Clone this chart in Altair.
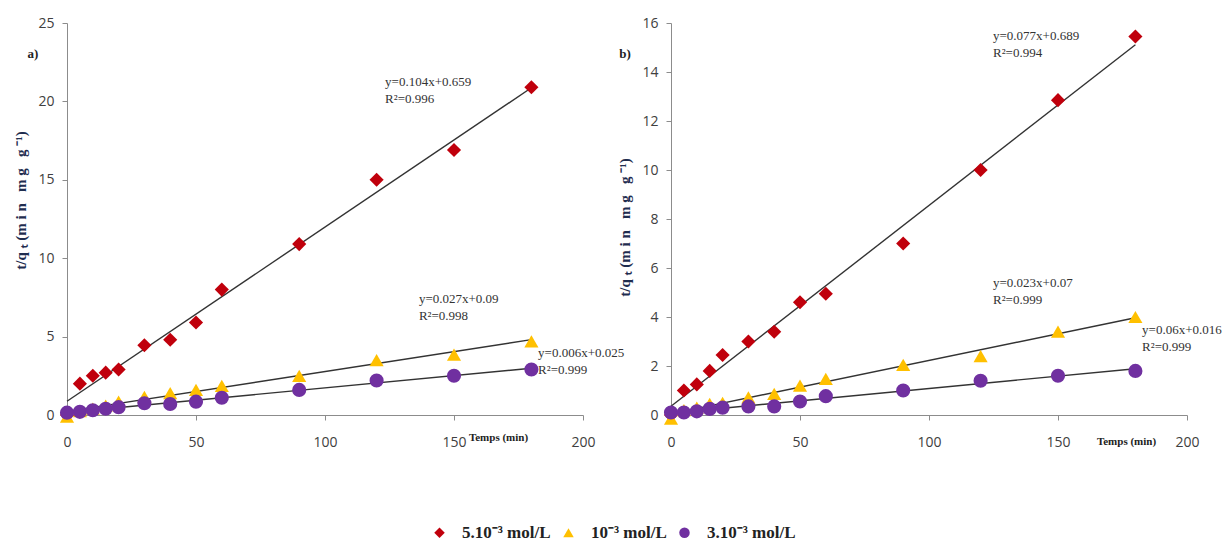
import altair as alt
import pandas as pd

# Contact time (min)
times = [0, 5, 10, 15, 20, 30, 40, 50, 60, 90, 120, 150, 180]

series_names = ["5.10⁻³ mol/L", "10⁻³ mol/L", "3.10⁻³ mol/L"]
series_colors = ["#C0000C", "#FFC000", "#7030A0"]
series_shapes = ["diamond", "triangle-up", "circle"]

# Panel a) t/qt values
a_red = [0.0, 2.0, 2.5, 2.7, 2.9, 4.45, 4.8, 5.9, 8.0, 10.9, 15.0, 16.9, 20.9]
a_yellow = [-0.1, 0.25, 0.4, 0.6, 0.85, 1.15, 1.4, 1.6, 1.85, 2.5, 3.5, 3.85, 4.7]
a_purple = [0.15, 0.2, 0.3, 0.4, 0.5, 0.75, 0.7, 0.85, 1.1, 1.6, 2.2, 2.5, 2.9]

# Panel b) t/qt values
b_red = [0.0, 1.0, 1.25, 1.8, 2.45, 3.0, 3.4, 4.6, 4.95, 7.0, 10.0, 12.85, 15.45]
b_yellow = [-0.15, 0.2, 0.3, 0.45, 0.5, 0.72, 0.86, 1.2, 1.47, 2.05, 2.4, 3.4, 4.0]
b_purple = [0.1, 0.1, 0.15, 0.25, 0.3, 0.35, 0.35, 0.55, 0.77, 1.0, 1.4, 1.6, 1.8]

# Fit equations printed next to each line
a_eq = ["y=0.104x+0.659", "y=0.027x+0.09", "y=0.006x+0.025"]
a_r2 = ["R²=0.996", "R²=0.998", "R²=0.999"]
b_eq = ["y=0.077x+0.689", "y=0.023x+0.07", "y=0.06x+0.016"]
b_r2 = ["R²=0.994", "R²=0.999", "R²=0.999"]

x_ticks = [0, 50, 100, 150, 200]
a_yticks = [0, 5, 10, 15, 20, 25]
b_yticks = [0, 2, 4, 6, 8, 10, 12, 14, 16]

SERIF = "Liberation Serif"
SANS = "Open Sans"
NB = "\u00a0"
W, H = 516, 392

# spaced-out axis title (non-breaking spaces survive SVG whitespace collapsing)
Y_TITLE = ("t/q" + NB + "ₜ" + NB + "(m" + NB + "i" + NB + "n" + NB * 3
           + "m" + NB + "g" + NB * 3 + "g" + NB + "⁻¹)")


def long_table(cols):
    rows = []
    for name, vals in zip(series_names, cols):
        for t, v in zip(times, vals):
            rows.append({"t": t, "v": v, "serie": name})
    return pd.DataFrame(rows)


def one_row():
    return alt.Data(values=[{"k": 0}])


def panel(df, ymax, yticks, eqs, r2s, eq_pos, tag, tag_dx, ytitle_y, xtitle_x, xtitle_y):
    x_enc = alt.X(
        "t:Q",
        scale=alt.Scale(domain=[0, 200], nice=False, zero=False),
        axis=alt.Axis(
            values=x_ticks, grid=False, title="Temps (min)", labelFlush=False,
            titleFont=SERIF, titleFontWeight="bold", titleFontSize=11, titleColor="#222222",
            titleX=xtitle_x, titleY=xtitle_y, titleAlign="center", titleBaseline="middle",
            labelPadding=15,
        ),
    )
    y_enc = alt.Y(
        "v:Q",
        scale=alt.Scale(domain=[0, ymax], nice=False, zero=False),
        axis=alt.Axis(
            values=yticks, grid=False, title=Y_TITLE,
            titleFont=SERIF, titleFontWeight="bold", titleFontSize=15, titleColor="#1F2D4F",
            titleX=-47, titleY=ytitle_y, titleAlign="center", titleBaseline="middle",
            labelPadding=8,
        ),
    )
    base = alt.Chart(df)
    fits = (
        base.transform_regression("t", "v", groupby=["serie"], extent=[0, 180])
        .mark_line(color="#333333", strokeWidth=1.4)
        .encode(x=x_enc, y=y_enc, detail="serie:N")
    )
    legend = alt.Legend(
        orient="none", legendX=364, legendY=501, direction="horizontal", title=None,
        labelFont=SERIF, labelFontWeight="bold", labelFontSize=17, labelColor="#222222",
        symbolSize=110, labelOffset=14, columnPadding=9,
    )
    pts = base.mark_point(filled=True, opacity=1, strokeWidth=0).encode(
        x=x_enc,
        y=y_enc,
        color=alt.Color("serie:N", scale=alt.Scale(domain=series_names, range=series_colors),
                        sort=series_names, legend=legend),
        shape=alt.Shape("serie:N", scale=alt.Scale(domain=series_names, range=series_shapes),
                        sort=series_names, legend=legend),
        size=alt.value(200),
    )
    layers = [fits, pts]
    for eq, r2, (px, py) in zip(eqs, r2s, eq_pos):
        layers.append(
            alt.Chart(one_row())
            .mark_text(text=[eq, r2], align="left", baseline="top", lineHeight=17,
                       font=SERIF, fontSize=13, color="#333333")
            .encode(x=alt.datum(px), y=alt.datum(py))
        )
    layers.append(
        alt.Chart(one_row())
        .mark_text(text=tag, align="center", baseline="middle", font=SERIF,
                   fontWeight="bold", fontSize=13, color="#222222")
        .encode(x=alt.value(tag_dx), y=alt.value(31))
    )
    return alt.layer(*layers).properties(width=W, height=H)


left = panel(
    long_table([a_red, a_yellow, a_purple]), 25, a_yticks, a_eq, a_r2,
    [(123.3, 21.6), (136.4, 7.75), (182.6, 4.35)], "a)", -34, 177, 431, 22,
)
right = panel(
    long_table([b_red, b_yellow, b_purple]), 16, b_yticks, b_eq, b_r2,
    [(124.8, 15.7), (124.8, 5.65), (182.6, 3.7)], "b)", -46, 204, 455, 26,
)

chart = (
    alt.hconcat(left, right, spacing=88, bounds="flush")
    .properties(
        autosize=alt.AutoSizeParams(type="none"),
        padding={"left": 67, "top": 23, "right": 1160, "bottom": 522},
        background="white",
    )
    .configure_view(stroke=None)
    .configure_axis(
        domainColor="#8C8C8C", tickColor="#8C8C8C", tickSize=5, domainWidth=1,
        labelFont=SANS, labelFontSize=14, labelColor="#404040",
    )
)

chart.save("out.html", embed_options={"renderer": "svg", "actions": False})
